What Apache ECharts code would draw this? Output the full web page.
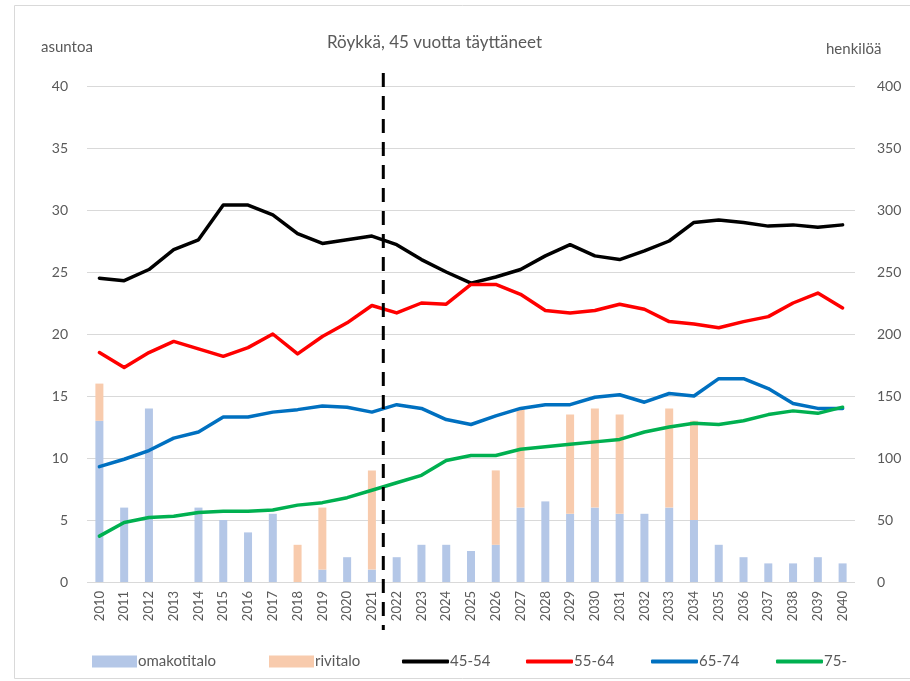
<!DOCTYPE html>
<html>
<head>
<meta charset="utf-8">
<script src="https://cdn.jsdelivr.net/npm/echarts@6/dist/echarts.min.js"></script>
<style>
  html, body { margin: 0; padding: 0; background: #fff; }
  #chart { width: 910px; height: 681px; }
</style>
</head>
<body>
<div id="chart"></div>
<script>
const years = [];
for (let y = 2010; y <= 2040; y++) years.push(String(y));

// asuntoa (vasen akseli)
const omakotitalo = [13, 6, 14, 0, 6, 5, 4, 5.5, 0, 1, 2, 1, 2, 3, 3, 2.5, 3, 6, 6.5, 5.5, 6, 5.5, 5.5, 6, 5, 3, 2, 1.5, 1.5, 2, 1.5];
const rivitalo = [3, 0, 0, 0, 0, 0, 0, 0, 3, 5, 0, 8, 0, 0, 0, 0, 6, 8, 0, 8, 8, 8, 0, 8, 8, 0, 0, 0, 0, 0, 0];

// henkilöä (oikea akseli)
const age45_54 = [245, 243, 252, 268, 276, 304, 304, 296, 281, 273, 276, 279, 272, 260, 250, 241, 246, 252, 263, 272, 263, 260, 267, 275, 290, 292, 290, 287, 288, 286, 288];
const age55_64 = [185, 173, 185, 194, 188, 182, 189, 200, 184, 198, 209, 223, 217, 225, 224, 240, 240, 232, 219, 217, 219, 224, 220, 210, 208, 205, 210, 214, 225, 233, 221];
const age65_74 = [93, 99, 106, 116, 121, 133, 133, 137, 139, 142, 141, 137, 143, 140, 131, 127, 134, 140, 143, 143, 149, 151, 145, 152, 150, 164, 164, 156, 144, 140, 140];
const age75 = [37, 48, 52, 53, 56, 57, 57, 58, 62, 64, 68, 74, 80, 86, 98, 102, 102, 107, 109, 111, 113, 115, 121, 125, 128, 127, 130, 135, 138, 136, 141];

const font = 'Lato, "Open Sans", sans-serif';
const grey = '#595959';

const chart = echarts.init(document.getElementById('chart'), null, { renderer: 'canvas' });

const lineSeries = (name, data, color) => ({
  name,
  type: 'line',
  yAxisIndex: 1,
  data,
  symbol: 'none',
  smooth: false,
  z: 3,
  lineStyle: { color, width: 3.5, cap: 'round', join: 'round' },
  itemStyle: { color },
});

// selitteet erikseen, jotta paikat osuvat kuvaan
const legendItem = (name, left, isLine) => ({
  left,
  top: 649,
  data: [isLine ? { name, icon: 'roundRect' } : { name, icon: 'rect' }],
  itemWidth: isLine ? 47 : 45,
  itemHeight: isLine ? 4 : 12,
  itemGap: 0,
  textStyle: { fontSize: 15, color: grey, fontFamily: font, padding: [0, 0, 0, -4] },
});

chart.setOption({
  animation: false,
  textStyle: { fontFamily: font },
  title: [
    { text: 'Röykkä, 45 vuotta täyttäneet', left: 322, top: 29, textStyle: { fontSize: 17, fontWeight: 'normal', color: grey, fontFamily: font } },
    { text: 'asuntoa', left: 36, top: 35, textStyle: { fontSize: 15, fontWeight: 'normal', color: grey, fontFamily: font } },
    { text: 'henkilöä', left: 821, top: 37, textStyle: { fontSize: 15, fontWeight: 'normal', color: grey, fontFamily: font } },
  ],
  legend: [
    legendItem('omakotitalo', 87, false),
    legendItem('rivitalo', 264, false),
    legendItem('45-54', 397, true),
    legendItem('55-64', 521, true),
    legendItem('65-74', 646, true),
    legendItem('75-', 771, true),
  ],
  grid: { left: 87, right: 55, top: 86, bottom: 99 },
  xAxis: {
    type: 'category',
    data: years,
    axisLine: { show: false },
    axisTick: { show: false },
    axisLabel: { rotate: 90, interval: 0, margin: 9, fontSize: 13, color: grey, fontFamily: font },
  },
  yAxis: [
    {
      type: 'value', min: 0, max: 40, interval: 5,
      axisLabel: { fontSize: 14, color: grey, margin: 19, fontFamily: font },
      splitLine: { lineStyle: { color: '#d9d9d9', width: 1 } },
    },
    {
      type: 'value', min: 0, max: 400, interval: 50,
      axisLabel: { fontSize: 14, color: grey, margin: 22, fontFamily: font },
      splitLine: { show: false },
    },
  ],
  series: [
    { name: 'omakotitalo', type: 'bar', stack: 'asunnot', barWidth: 8, data: omakotitalo, itemStyle: { color: '#b4c7e7' } },
    { name: 'rivitalo', type: 'bar', stack: 'asunnot', barWidth: 8, data: rivitalo, itemStyle: { color: '#f8cbad' } },
    lineSeries('45-54', age45_54, '#000000'),
    lineSeries('55-64', age55_64, '#ff0000'),
    lineSeries('65-74', age65_74, '#0070c0'),
    lineSeries('75-', age75, '#00b050'),
  ],
});

// katkoviiva ennusteen alkuun (2021/2022 väliin) + kehys
const x1 = chart.convertToPixel({ xAxisIndex: 0 }, '2021');
const x2 = chart.convertToPixel({ xAxisIndex: 0 }, '2022');
const xm = (x1 + x2) / 2 - 1;
const yTop = chart.convertToPixel({ yAxisIndex: 0 }, 40);
const yBot = chart.convertToPixel({ yAxisIndex: 0 }, 0);

chart.setOption({
  graphic: [
    {
      type: 'rect',
      shape: { x: 14.5, y: 5.5, width: 920, height: 673 },
      style: { fill: 'none', stroke: '#d9d9d9', lineWidth: 1 },
      silent: true, z: 0,
    },
    {
      type: 'line',
      shape: { x1: xm, y1: yTop - 13, x2: xm, y2: yBot + 48 },
      style: { stroke: '#000', lineWidth: 3, lineDash: [14, 9] },
      silent: true, z: 10,
    },
  ],
});
</script>
</body>
</html>
